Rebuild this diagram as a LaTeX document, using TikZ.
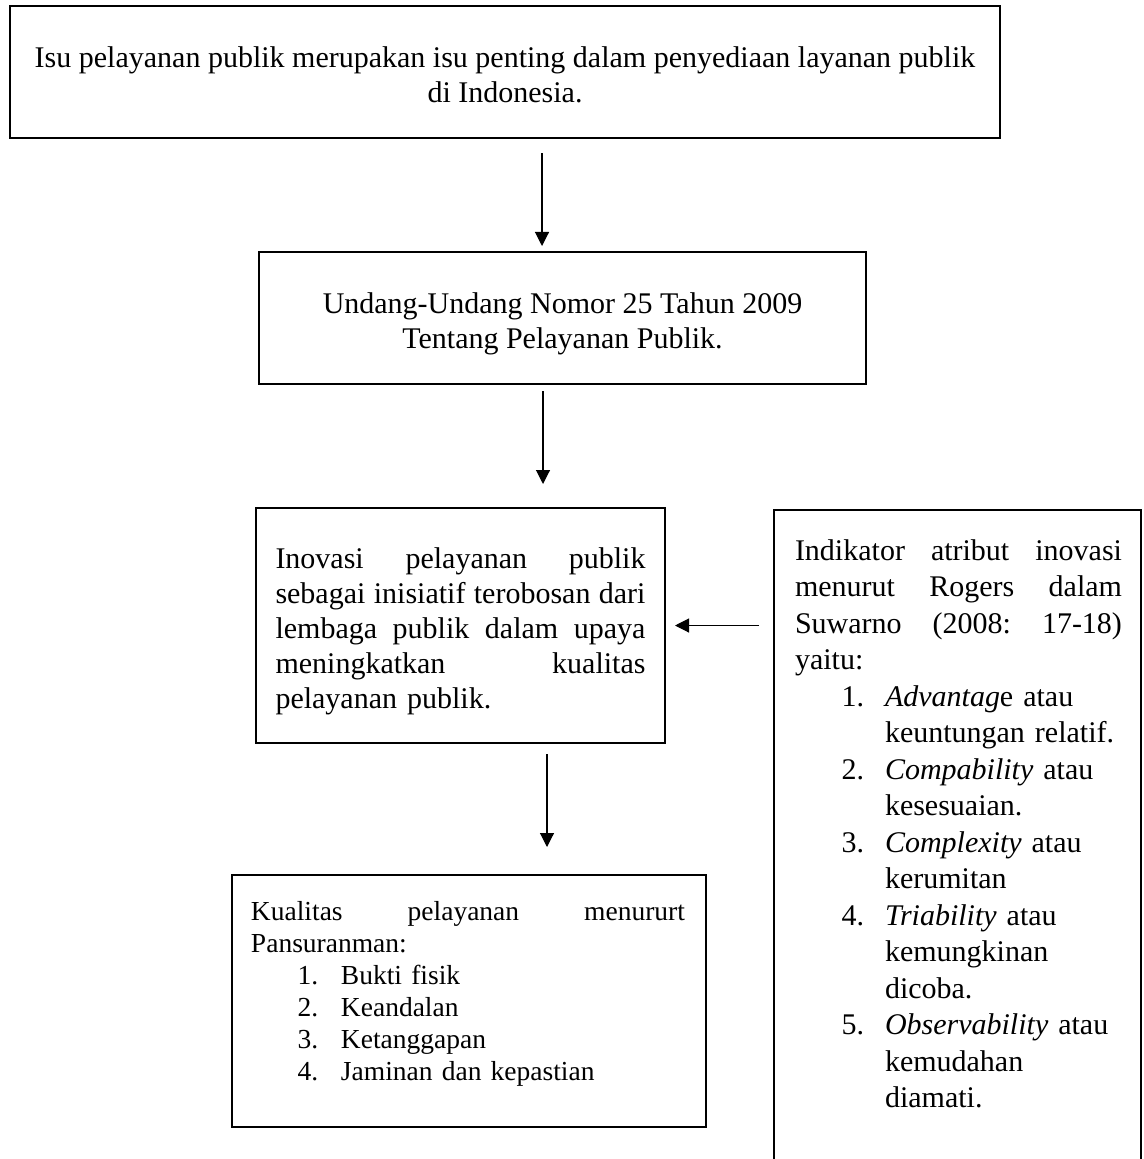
\documentclass[tikz,border=0pt]{standalone}
\usepackage{fontspec}
\setmainfont{Liberation Serif}
\usetikzlibrary{arrows.meta}

\tikzstyle{box}   = [draw=black, line width=0.8pt, inner sep=0pt, align=center]
\tikzstyle{txt}   = [inner sep=0pt, align=left]
\tikzstyle{arrow} = [line width=0.45pt, -{Triangle[length=5.6pt,width=5.6pt]}]

\newcommand{\jline}[1]{\makebox[\linewidth][s]{#1}}
\newcommand{\numitem}[2]{\hspace*{18.6pt}\makebox[17.4pt][l]{#1}#2}
\newcommand{\contline}[1]{\hspace*{36pt}#1}

\begin{document}
\begin{tikzpicture}[x=0.4pt, y=-0.4pt]
	\useasboundingbox (0,0) rectangle (1144,1159);

	\node[box, minimum width=396pt, minimum height=52.8pt, font=\fontsize{12}{14}\selectfont] (isu) at (505,72)
		{\rule{0pt}{10.6pt}Isu pelayanan publik merupakan isu penting dalam penyediaan layanan publik\\ di Indonesia.};

	\node[box, minimum width=242.8pt, minimum height=52.8pt, font=\fontsize{12}{14}\selectfont] (uu) at (562.5,318)
		{\rule{0pt}{13pt}Undang-Undang Nomor 25 Tahun 2009\\ Tentang Pelayanan Publik.};

	\node[box, minimum width=163.6pt, minimum height=94pt, text width=148pt, align=left, font=\fontsize{12}{14}\selectfont] (inovasi) at (460.5,625.5)
		{\jline{\rule{0pt}{12.6pt}Inovasi\hfill pelayanan\hfill publik}\\
		 \jline{sebagai\hfill inisiatif\hfill terobosan\hfill dari}\\
		 \jline{lembaga\hfill publik\hfill dalam\hfill upaya}\\
		 \jline{meningkatkan\hfill kualitas}\\
		 pelayanan publik.};

	% kotak indikator (bawahnya keluar halaman)
	\node[box, minimum width=146.8pt, minimum height=266pt] (indikator) at (957.5,842.5) {};
	\node[txt, anchor=north, text width=130.8pt, font=\fontsize{12}{14.6}\selectfont] (indikatortxt) at (958.5,539)
		{\jline{Indikator\hfill atribut\hfill inovasi}\\
		 \jline{menurut\hfill Rogers\hfill dalam}\\
		 \jline{Suwarno\hfill (2008:\hfill 17-18)}\\
		 yaitu:\\
		 \numitem{1.}{\textit{Advantag}e atau}\\
		 \contline{keuntungan relatif.}\\
		 \numitem{2.}{\textit{Compability} atau}\\
		 \contline{kesesuaian.}\\
		 \numitem{3.}{\textit{Complexity} atau}\\
		 \contline{kerumitan}\\
		 \numitem{4.}{\textit{Triability} atau}\\
		 \contline{kemungkinan}\\
		 \contline{dicoba.}\\
		 \numitem{5.}{\textit{Observability} atau}\\
		 \contline{kemudahan}\\
		 \contline{diamati.}};

	% kotak kualitas
	\node[box, minimum width=189.6pt, minimum height=100.8pt] (kualitas) at (469,1001) {};
	\node[txt, text width=173.6pt, font=\fontsize{11}{12.8}\selectfont] (kualitastxt) at (468,994)
		{\jline{Kualitas\hfill pelayanan\hfill menururt}\\
		 Pansuranman:\\
		 \numitem{1.}{Bukti fisik}\\
		 \numitem{2.}{Keandalan}\\
		 \numitem{3.}{Ketanggapan}\\
		 \numitem{4.}{Jaminan dan kepastian}};

	\draw[arrow, shorten <=5.6pt, shorten >=2pt] ([xshift=-8.2pt]uu.north |- isu.south) -- ([xshift=-8.2pt]uu.north);
	\draw[arrow, shorten <=2.4pt, shorten >=9.2pt] ([xshift=-7.8pt]uu.south) -- ([xshift=-7.8pt]uu.south |- inovasi.north);
	\draw[arrow, shorten <=5.6pt, shorten >=3.6pt] (inovasi.east -| indikator.west) -- (inovasi.east);
	\draw[arrow, shorten <=4pt, shorten >=10.8pt] ([xshift=34.6pt]inovasi.south) -- ([xshift=34.6pt]inovasi.south |- kualitas.north);
\end{tikzpicture}
\end{document}
